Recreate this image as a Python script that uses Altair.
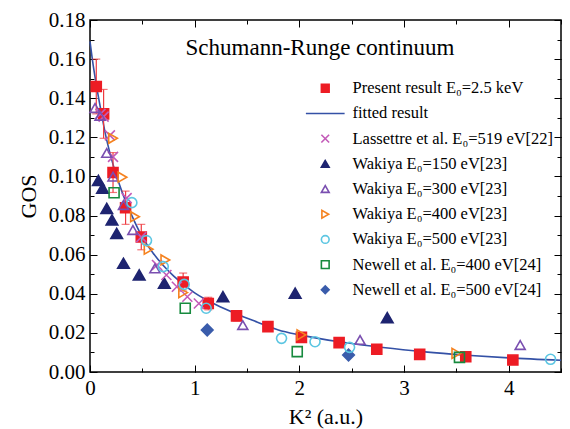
import altair as alt
import pandas as pd

# ---------------- data ----------------
labels = [
    "Present result E₀=2.5 keV",
    "fitted result",
    "Lassettre et al. E₀=519 eV[22]",
    "Wakiya E₀=150 eV[23]",
    "Wakiya E₀=300 eV[23]",
    "Wakiya E₀=400 eV[23]",
    "Wakiya E₀=500 eV[23]",
    "Newell et al. E₀=400 eV[24]",
    "Newell et al. E₀=500 eV[24]",
]

present_x = [0.06, 0.13, 0.22, 0.34, 0.49, 0.89, 1.13, 1.40, 1.70, 2.02, 2.38, 2.74, 3.15, 3.59, 4.04]
present_y = [0.146, 0.132, 0.102, 0.084, 0.069, 0.046, 0.035, 0.0287, 0.0232, 0.0177, 0.015, 0.0116, 0.009, 0.0078, 0.0061]
present_err = [0.014, 0.0125, 0.0102, 0.0085, 0.0065, 0.0046, 0.0032, 0.0026, 0.002, 0.0015, 0.0012, 0.001, 0.0008, 0.0007, 0.0006]

fit_x = [0, 0.03, 0.06, 0.1, 0.15, 0.2, 0.3, 0.4, 0.5, 0.6, 0.8, 1.0, 1.2, 1.4, 1.6, 1.8, 2.0, 2.4, 2.8, 3.2, 3.6, 4.0, 4.5]
fit_y = [0.169, 0.157, 0.147, 0.135, 0.121, 0.110, 0.093, 0.080, 0.069, 0.061, 0.049, 0.0405, 0.0345, 0.0297, 0.0255, 0.0215, 0.0190, 0.0153, 0.0125, 0.0103, 0.0086, 0.0072, 0.0060]

lassettre_x = [0.10, 0.13, 0.19, 0.22, 0.35, 0.49, 0.64, 0.73, 0.83, 0.93, 1.04]
lassettre_y = [0.132, 0.1306, 0.121, 0.110, 0.0889, 0.069, 0.0547, 0.0496, 0.0436, 0.0385, 0.035]

w150_x = [0.08, 0.12, 0.16, 0.21, 0.255, 0.32, 0.47, 0.71, 1.27, 1.96, 2.84]
w150_y = [0.098, 0.094, 0.0837, 0.0778, 0.0709, 0.0556, 0.0496, 0.0454, 0.0385, 0.0403, 0.0278]

w300_x = [0.048, 0.096, 0.16, 0.22, 0.32, 0.41, 0.62, 1.46, 2.58, 4.11]
w300_y = [0.135, 0.131, 0.112, 0.0999, 0.0854, 0.0726, 0.053, 0.024, 0.0164, 0.0138]

w400_x = [0.22, 0.31, 0.43, 0.56, 0.72, 0.89, 2.02, 3.50]
w400_y = [0.1195, 0.0996, 0.0794, 0.0628, 0.0573, 0.0406, 0.019, 0.0095]

w500_x = [0.40, 0.54, 0.70, 0.90, 1.11, 1.83, 2.15, 2.48, 4.40]
w500_y = [0.0866, 0.0672, 0.0539, 0.0448, 0.0326, 0.0172, 0.0155, 0.0126, 0.0065]

n400_x = [0.23, 0.91, 1.98, 3.53]
n400_y = [0.0917, 0.0326, 0.0104, 0.0075]

n500_x = [1.12, 2.47]
n500_y = [0.0215, 0.0087]

x_major = [0, 1, 2, 3, 4]
x_minor = [0, 0.5, 1, 1.5, 2, 2.5, 3, 3.5, 4, 4.5]
y_major = [0, 0.02, 0.04, 0.06, 0.08, 0.10, 0.12, 0.14, 0.16, 0.18]
y_minor = [0, 0.01, 0.02, 0.03, 0.04, 0.05, 0.06, 0.07, 0.08, 0.09, 0.10,
           0.11, 0.12, 0.13, 0.14, 0.15, 0.16, 0.17, 0.18]

title_text = "Schumann-Runge continuum"

# ---------------- tables ----------------
small_series = [
    (labels[0], present_x, present_y),
    (labels[2], lassettre_x, lassettre_y),
    (labels[4], w300_x, w300_y),
    (labels[5], w400_x, w400_y),
    (labels[6], w500_x, w500_y),
    (labels[7], n400_x, n400_y),
]
big_series = [
    (labels[3], w150_x, w150_y),
    (labels[8], n500_x, n500_y),
]


def to_frame(series):
    rows = []
    for name, xs_, ys_ in series:
        for a, b in zip(xs_, ys_):
            rows.append({"series": name, "x": a, "y": b})
    return pd.DataFrame(rows)


small_df = to_frame(small_series)
big_df = to_frame(big_series)
fit_df = pd.DataFrame({"x": fit_x, "y": fit_y})
err_df = pd.DataFrame({"x": present_x, "y": present_y, "e": present_err})
title_df = pd.DataFrame({"t": [title_text]})

# ---------------- styles ----------------
FONT = "Liberation Serif"
RED = "#ED1C24"
shapes = ["square", "M-5,0L5,0", "M-1,-1L1,1M-1,1L1,-1", "triangle-up", "triangle-up",
          "triangle-right", "circle", "square", "diamond"]
strokes = [RED, "#3451A6", "#C35BB8", "#1E2470", "#7A4FB0", "#F5821F", "#5CC6E2", "#178A3E", "#3A5CAB"]
fills = [RED, "transparent", "transparent", "#1E2470", "transparent", "transparent",
         "transparent", "transparent", "#3A5CAB"]

xs = alt.Scale(domain=[0, 4.5], nice=False, zero=False)
ys = alt.Scale(domain=[0, 0.18], nice=False, zero=False)

common_axis = dict(domain=False, grid=False, tickColor="black", tickWidth=1,
                   labelColor="black", titleColor="black", labelFlush=False,
                   labelOverlap=False, labelFont=FONT, titleFont=FONT)

ax_bottom = alt.Axis(orient="bottom", values=x_major, tickSize=7, offset=-7, format="d",
                     labelFontSize=21, labelPadding=5, title="K²  (a.u.)", titleFontSize=22,
                     titleFontWeight="normal", titlePadding=8, **common_axis)
ax_left = alt.Axis(orient="left", values=y_major, tickSize=7, offset=-7, format=".2f",
                   labelFontSize=21, labelPadding=5, title="GOS", titleFontSize=22,
                   titleFontWeight="normal", titlePadding=8, **common_axis)
ax_bottom_minor = alt.Axis(orient="bottom", values=x_minor, tickSize=4, offset=-4,
                           labels=False, title=None, **common_axis)
ax_left_minor = alt.Axis(orient="left", values=y_minor, tickSize=4, offset=-4,
                         labels=False, title=None, **common_axis)
ax_top = alt.Axis(orient="top", values=x_major, tickSize=7, offset=-7,
                  labels=False, title=None, **common_axis)
ax_right = alt.Axis(orient="right", values=y_major, tickSize=7, offset=-7,
                    labels=False, title=None, **common_axis)
ax_top_minor = alt.Axis(orient="top", values=x_minor, tickSize=4, offset=-4,
                        labels=False, title=None, **common_axis)
ax_right_minor = alt.Axis(orient="right", values=y_minor, tickSize=4, offset=-4,
                          labels=False, title=None, **common_axis)

legend = alt.Legend(title=" ", titleFontSize=10, titlePadding=43,
                    orient="top-right", offset=7,
                    labelFont=FONT, labelFontSize=16.5, labelColor="black",
                    symbolSize=60, symbolStrokeWidth=1.6, labelOffset=19,
                    rowPadding=8.2, labelLimit=400)

shape_scale = alt.Scale(domain=labels, range=shapes)
stroke_scale = alt.Scale(domain=labels, range=strokes)
fill_scale = alt.Scale(domain=labels, range=fills)

# ---------------- layers ----------------
line = alt.Chart(fit_df).mark_line(color="#3451A6", strokeWidth=1.6, interpolate="monotone").encode(
    x=alt.X("x:Q", scale=xs, axis=ax_bottom),
    y=alt.Y("y:Q", scale=ys, axis=ax_left),
)

inv1 = alt.Chart(fit_df).mark_point(opacity=0).encode(
    x=alt.X("x:Q", scale=xs, axis=ax_bottom_minor),
    y=alt.Y("y:Q", scale=ys, axis=ax_left_minor),
)

inv2 = alt.Chart(fit_df).mark_point(opacity=0).encode(
    x=alt.X("x:Q", scale=xs, axis=ax_top_minor),
    y=alt.Y("y:Q", scale=ys, axis=ax_right_minor),
)

err = alt.Chart(err_df).transform_calculate(
    lo="datum.y - datum.e", hi="datum.y + datum.e"
).mark_errorbar(ticks=True, size=8, thickness=1.2, color="#EE3A40").encode(
    x=alt.X("x:Q", scale=xs, axis=None),
    y=alt.Y("lo:Q", scale=ys, axis=None),
    y2="hi:Q",
)

big_points = alt.Chart(big_df).mark_point(strokeWidth=1.6, size=135, opacity=1).encode(
    x=alt.X("x:Q", scale=xs, axis=None),
    y=alt.Y("y:Q", scale=ys, axis=None),
    shape=alt.Shape("series:N", scale=shape_scale, legend=legend),
    stroke=alt.Stroke("series:N", scale=stroke_scale, legend=legend),
    fill=alt.Fill("series:N", scale=fill_scale, legend=legend),
)

points = alt.Chart(small_df).mark_point(strokeWidth=1.6, size=100, opacity=1).encode(
    x=alt.X("x:Q", scale=xs, axis=ax_top),
    y=alt.Y("y:Q", scale=ys, axis=ax_right),
    shape=alt.Shape("series:N", scale=shape_scale, legend=legend),
    stroke=alt.Stroke("series:N", scale=stroke_scale, legend=legend),
    fill=alt.Fill("series:N", scale=fill_scale, legend=legend),
)

title = alt.Chart(title_df).mark_text(font=FONT, fontSize=23, align="center",
                                      baseline="middle", color="black").encode(
    text="t:N", x=alt.value(230), y=alt.value(28)
)

chart = alt.layer(line, inv1, err, big_points, points, inv2, title).resolve_axis(
    x="independent", y="independent"
).properties(
    width=471, height=352,
    autosize=alt.AutoSizeParams(type="none"),
    padding={"left": 90, "top": 20, "right": 9, "bottom": 57},
    background="white",
).configure_view(
    stroke="black", strokeWidth=1.5
)

chart.save("out.html", embed_options={"renderer": "svg", "actions": False})
